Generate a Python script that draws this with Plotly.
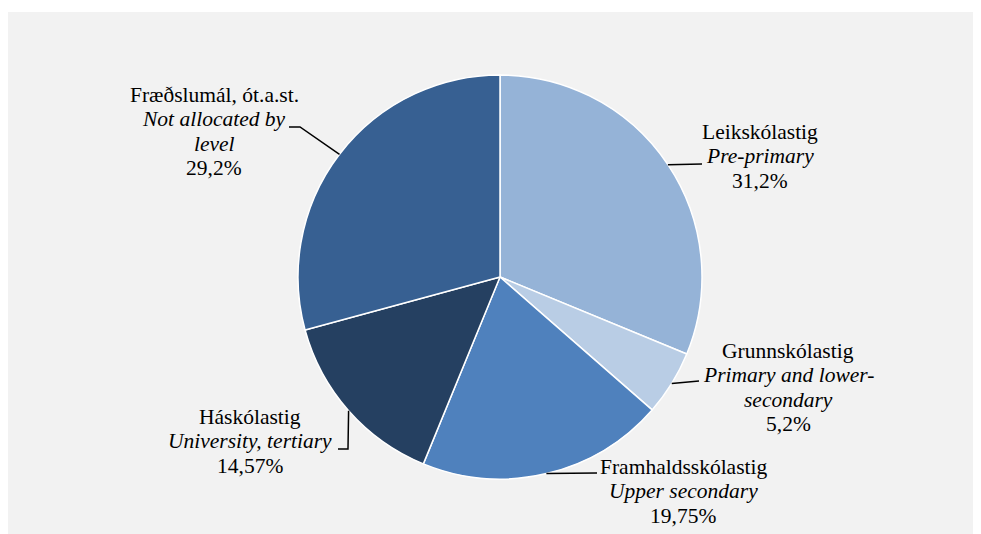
"""Pie chart: education spending by level (Icelandic / English labels)."""

import numpy as np
import plotly.graph_objects as go

W, H = 973, 526
OFF = 8  # page body margin; pixel positions below are measured on the page

LEVELS_IS = ['Leikskólastig', 'Grunnskólastig', 'Framhaldsskólastig', 'Háskólastig',
             'Fræðslumál, ót.a.st.']
LEVELS_EN = ['Pre-primary', 'Primary and lower-<br>secondary', 'Upper secondary',
             'University, tertiary', 'Not allocated by<br>level']
SHARES = [31.2, 5.2, 19.75, 14.57, 29.2]
SHARE_LABELS = ['31,2%', '5,2%', '19,75%', '14,57%', '29,2%']
COLORS = ['#95B3D7', '#B9CDE5', '#4F81BD', '#254061', '#376092']

# pie geometry in page pixels
CX, CY, R = 500, 277, 202

# label centre (x, y of first line) and leader line elbows (page pixels)
LABEL_POS = [(760, 132), (788, 351), (683, 467), (250, 417), (214, 95)]
LEADERS = [
    [(702, 164)],
    [(699, 381)],
    [(597, 473)],
    [(348, 449), (338, 449)],
    [(300, 127), (289, 127)],
]
LINE_H = 24.3


def px(x, y):
    return (x - OFF) / W, 1 - (y - OFF) / H


fig = go.Figure()
x0, y1 = px(CX - R, CY - R)
x1, y0 = px(CX + R, CY + R)
fig.add_trace(
    go.Pie(
        labels=LEVELS_IS,
        values=SHARES,
        sort=False,
        direction='clockwise',
        rotation=0,
        marker=dict(colors=COLORS, line=dict(color='white', width=1.5)),
        textinfo='none',
        showlegend=False,
        domain=dict(x=[x0, x1], y=[y0, y1]),
    )
)

# anchor points on the rim at each slice's mid angle
total = sum(SHARES)
cum = np.cumsum([0] + SHARES)
mid = (cum[:-1] + cum[1:]) / 2 / total * 2 * np.pi

shapes = [
    dict(type='rect', xref='paper', yref='paper', x0=0, x1=1, y0=1 - 4 / H, y1=1,
         fillcolor='white', line_width=0, layer='below'),
]
annotations = []
font = dict(family='Liberation Serif, Times New Roman, serif', size=21.5, color='black')

for i in range(len(SHARES)):
    ax = CX + R * np.sin(mid[i])
    ay = CY - R * np.cos(mid[i])
    pts = [(ax, ay)] + LEADERS[i]
    path = 'M ' + ' L '.join(f'{px(x, y)[0]:.5f},{px(x, y)[1]:.5f}' for x, y in pts)
    shapes.append(dict(type='path', xref='paper', yref='paper', path=path,
                       line=dict(color='black', width=1.5)))

    lines = [LEVELS_IS[i]] + [f'<i>{t}</i>' for t in LEVELS_EN[i].split('<br>')] + [SHARE_LABELS[i]]
    lx, ly = LABEL_POS[i]
    for k, t in enumerate(lines):
        x, y = px(lx, ly + k * LINE_H)
        annotations.append(dict(text=t, x=x, y=y, xref='paper', yref='paper',
                                xanchor='center', yanchor='middle', showarrow=False, font=font))

fig.update_layout(
    width=W,
    height=H,
    margin=dict(l=0, r=0, t=0, b=0),
    paper_bgcolor='#F2F2F2',
    shapes=shapes,
    annotations=annotations,
)

fig.write_html('out.html')
